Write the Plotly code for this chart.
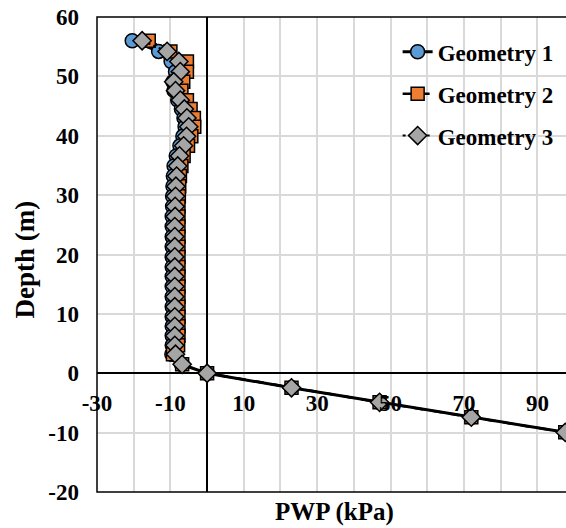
import plotly.graph_objects as go

depth = [56.0, 54.2, 52.5, 50.8, 49.1, 47.6, 46.0, 44.5, 43.0, 41.5, 39.9, 38.3, 36.6,
         34.9, 33.2, 31.5, 29.8, 28.1, 26.4, 24.7, 23.0, 21.3, 19.6, 17.9, 16.3, 14.6,
         12.9, 11.2, 9.5, 7.9, 6.3, 4.7, 3.2, 1.5, 0.0, -2.45, -4.9, -7.4, -9.95]

pwp_g1 = [-20.4, -13.2, -9.8, -8.6, -9.3, -9.0, -8.0, -7.0, -6.3, -6.0, -6.6, -7.4, -8.4,
          -9.0, -9.2, -9.3, -9.4, -9.4, -9.5, -9.5, -9.5, -9.5, -9.5, -9.5, -9.5, -9.5,
          -9.5, -9.5, -9.5, -9.5, -9.5, -9.5, -9.6, -7.0, 0.0, 23.0, 47.0, 72.0, 97.6]

pwp_g2 = [-15.9, -10.0, -5.5, -5.5, -6.5, -7.0, -5.5, -4.5, -3.6, -3.5, -4.3, -5.2, -6.4,
          -7.0, -7.4, -7.6, -7.7, -7.8, -7.8, -7.8, -7.8, -7.8, -7.8, -7.8, -7.8, -7.8,
          -7.8, -7.8, -7.8, -7.8, -7.8, -7.9, -9.3, -6.8, 0.0, 23.0, 47.0, 72.0, 97.6]

pwp_g3 = [-17.7, -10.9, -7.7, -7.3, -9.1, -8.6, -7.3, -6.2, -5.5, -5.0, -5.6, -6.4, -7.5,
          -8.0, -8.3, -8.5, -8.6, -8.7, -8.7, -8.8, -8.8, -8.8, -8.8, -8.8, -8.8, -8.8,
          -8.8, -8.8, -8.8, -8.8, -8.8, -8.8, -8.6, -6.8, 0.0, 23.0, 47.0, 72.0, 97.6]

names = ["Geometry 1", "Geometry 2", "Geometry 3"]
x_ticks = [-30, -10, 10, 30, 50, 70, 90]
x_tick_labels = ["-30", "-10", "10", "30", "50", "70", "90"]
y_ticks = [-20, -10, 0, 10, 20, 30, 40, 50, 60]
y_tick_labels = ["-20", "-10", "0", "10", "20", "30", "40", "50", "60"]

FONT = "Liberation Serif"
fs = 23

fig = go.Figure()
fig.add_trace(go.Scatter(
    x=pwp_g1, y=depth, name=names[0], mode="lines+markers", legendgroup="g1",
    line=dict(color="black", width=3),
    marker=dict(symbol="circle", size=14, color="#5B9BD5", line=dict(color="black", width=1.5))))
fig.add_trace(go.Scatter(
    x=pwp_g2, y=depth, name=names[1], mode="lines+markers", legendgroup="g2",
    line=dict(color="black", width=2.5, dash="dash"),
    marker=dict(symbol="square", size=13, color="#ED7D31", line=dict(color="black", width=1.5))))
fig.add_trace(go.Scatter(
    x=pwp_g3, y=depth, name=names[2], mode="lines+markers", legendgroup="g3",
    line=dict(color="black", width=2, dash="dot"),
    marker=dict(symbol="diamond", size=14, color="#A5A5A5", line=dict(color="black", width=1.5))))

fig.update_layout(
    width=566, height=528,
    margin=dict(l=97, r=0, t=17, b=36),
    paper_bgcolor="white", plot_bgcolor="white",
    font=dict(family=FONT, size=fs, color="black", weight="bold"),
    showlegend=True,
    legend=dict(x=0.641, y=0.972, xanchor="left", yanchor="top", bgcolor="rgba(0,0,0,0)",
                font=dict(family=FONT, size=fs, weight="bold"), tracegroupgap=9),
    xaxis=dict(range=[-30, 97.8], tickvals=x_ticks, ticktext=x_tick_labels,
               showgrid=True, gridcolor="#D9D9D9", gridwidth=1.5,
               minor=dict(dtick=10, tick0=0, showgrid=True, gridcolor="#D9D9D9", gridwidth=1.5),
               zeroline=True, zerolinecolor="black", zerolinewidth=1.5,
               anchor="free", position=0.25, showline=False, ticks="",
               tickfont=dict(family=FONT, size=fs, weight="bold"), ticklabelstandoff=14),
    yaxis=dict(range=[-20, 60], tickvals=y_ticks, ticktext=y_tick_labels,
               showgrid=True, gridcolor="#D9D9D9", gridwidth=1.5,
               zeroline=True, zerolinecolor="black", zerolinewidth=1.5,
               showline=False, ticks="",
               tickfont=dict(family=FONT, size=fs, weight="bold"), ticklabelstandoff=17),
    shapes=[dict(type="rect", xref="paper", yref="paper", x0=0, x1=1.05, y0=0, y1=1,
                 line=dict(color="black", width=1.5), layer="above")],
    annotations=[
        dict(text="Depth (m)", xref="paper", yref="paper", x=0, y=0.5, xanchor="center",
             yanchor="middle", xshift=-73, yshift=-5, textangle=-90, showarrow=False,
             font=dict(family=FONT, size=27, weight="bold")),
        dict(text="PWP (kPa)", xref="paper", yref="paper", x=0.507, y=0, xanchor="center",
             yanchor="bottom", yshift=-36, showarrow=False,
             font=dict(family=FONT, size=25, weight="bold")),
    ],
)

fig.write_html("out.html")
